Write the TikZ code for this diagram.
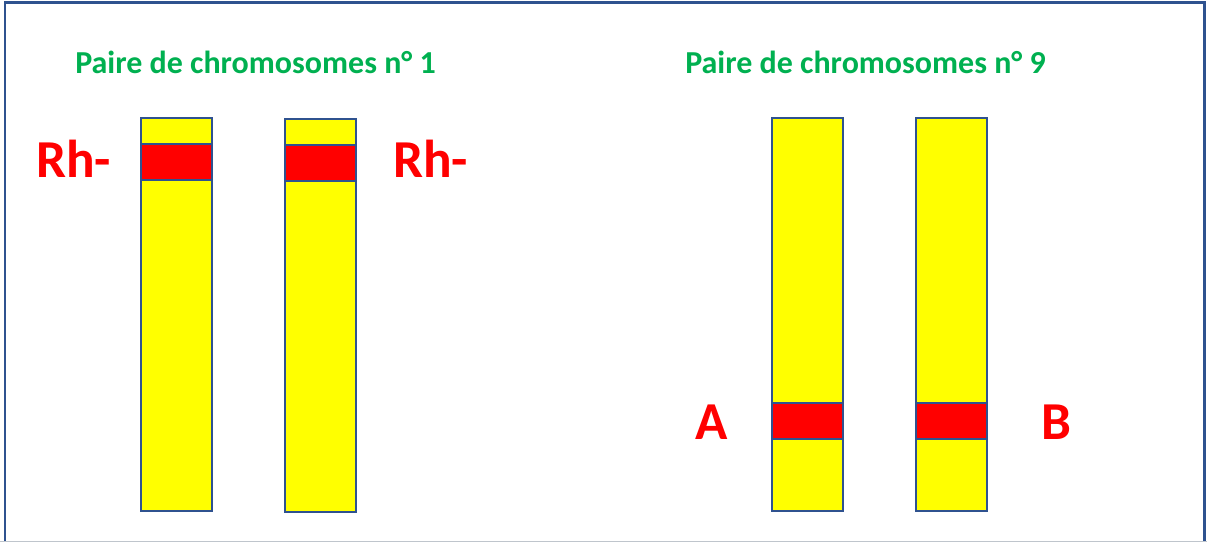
\documentclass[tikz,border=0pt]{standalone}
\usepackage{fontspec}
\setmainfont{Carlito}
\definecolor{titlegreen}{HTML}{00B050}
\definecolor{genered}{HTML}{FF0000}
\definecolor{chromoyellow}{HTML}{FFFF00}
\definecolor{outlineblue}{HTML}{2F528F}
\definecolor{framegray}{HTML}{BFC5CC}
\tikzset{
  chromo/.style={fill=chromoyellow, draw=outlineblue, line width=1.9pt},
  band/.style={fill=genered, draw=outlineblue, line width=1.9pt},
  title/.style={text=titlegreen, font=\bfseries\fontsize{24}{28}\selectfont, anchor=base west, inner sep=0pt},
  allele/.style={text=genered, font=\bfseries\fontsize{40}{44}\selectfont, anchor=base west, inner sep=0pt},
}
\begin{document}
\begin{tikzpicture}[x=0.75pt, y=-0.75pt]
  \useasboundingbox (0,0) rectangle (1207,542);
  % outer frame (its bottom edge falls below the page)
  \draw[outlineblue, line width=2.2pt] (5,560) -- (5,2.5) -- (1204.5,2.5) -- (1204.5,560);
  \draw[framegray, line width=1pt] (0,541.5) -- (1207,541.5);

  % titles
  \node[title] (t1) at (75,74) {Paire de chromosomes n° 1};
  \node[title] (t9) at (685,74) {Paire de chromosomes n° 9};

  % pair 1 with the Rh locus near the top
  \draw[chromo] (141,118) rectangle (212,511);
  \draw[band]   (141,144) rectangle (212,180);
  \draw[chromo] (285,119) rectangle (356,512);
  \draw[band]   (285,145) rectangle (356,181);

  % pair 9 with the ABO locus near the bottom
  \draw[chromo] (772,118) rectangle (843,511);
  \draw[band]   (772,403) rectangle (843,439);
  \draw[chromo] (916,118) rectangle (987,511);
  \draw[band]   (916,403) rectangle (987,439);

  % allele labels
  \node[allele] (rh1) at (36,177) {Rh-};
  \node[allele] (rh2) at (393,177) {Rh-};
  \node[allele] (a)   at (695,439) {A};
  \node[allele] (b)   at (1041,439) {B};
\end{tikzpicture}
\end{document}
